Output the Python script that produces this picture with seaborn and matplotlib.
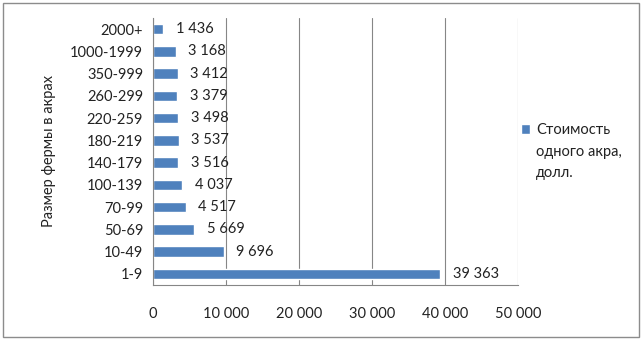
import numpy as np
import pandas as pd
import matplotlib
matplotlib.use("Agg")
import matplotlib.pyplot as plt
from matplotlib.patches import Rectangle, Patch
import seaborn as sns

# Data (top to bottom as shown)
farm_sizes = ["2000+", "1000-1999", "350-999", "260-299", "220-259", "180-219",
              "140-179", "100-139", "70-99", "50-69", "10-49", "1-9"]
acre_price = [1436, 3168, 3412, 3379, 3498, 3537, 3516, 4037, 4517, 5669, 9696, 39363]
x_ticks = [0, 10000, 20000, 30000, 40000, 50000]
legend_lines = ["Стоимость", "одного акра,", "долл."]

sns.set_style("white")
plt.rcParams["font.family"] = ["Lato", "DejaVu Sans"]
FS = 10.5
plt.rcParams["font.size"] = FS

BAR = "#4F81BD"
GRID = "#868686"
TXT = "#222222"

df = pd.DataFrame({"size": farm_sizes, "price": acre_price})

fig = plt.figure(figsize=(6.42, 3.40), dpi=100)
ax = fig.add_axes([0.238, 0.162, 0.569, 0.785])

sns.barplot(data=df, x="price", y="size", order=farm_sizes, color=BAR,
            width=0.47, saturation=1, ax=ax)

ax.set_xlim(0, 50000)
ax.set_xticks(x_ticks)
ax.set_xticklabels([f"{t:,}".replace(",", " ") for t in x_ticks])
ax.xaxis.grid(True, color=GRID, linewidth=0.8)
ax.set_axisbelow(True)
ax.tick_params(axis="x", length=5, color=GRID, pad=11, labelsize=FS, labelcolor=TXT)
ax.tick_params(axis="y", length=0, pad=7, labelsize=FS, labelcolor=TXT)

for s in ["top", "right"]:
    ax.spines[s].set_visible(False)
for s in ["left", "bottom"]:
    ax.spines[s].set_color(GRID)
    ax.spines[s].set_linewidth(0.8)

ax.set_xlabel("")
ax.set_ylabel("Размер фермы в акрах", fontsize=FS, labelpad=10, color=TXT)

for cont in ax.containers:
    ax.bar_label(cont, labels=[f"{v:,}".replace(",", " ") for v in acre_price],
                 padding=9, fontsize=FS, color=TXT)

# legend: colour box beside the first line only, the rest wrap beneath
handles = [Patch(facecolor=BAR)] + [Patch(alpha=0) for _ in legend_lines[1:]]
ax.legend(handles, legend_lines, loc="upper left", bbox_to_anchor=(0.972, 0.655),
          frameon=False, handlelength=0.6, handleheight=0.6, handletextpad=0.45,
          labelspacing=0.5, fontsize=FS, labelcolor=TXT)

fig.patches.append(Rectangle((0.005, 0.008), 0.99, 0.984, transform=fig.transFigure,
                             fill=False, edgecolor="#8c8c8c", linewidth=1))

fig.savefig("out.png", dpi=100)
